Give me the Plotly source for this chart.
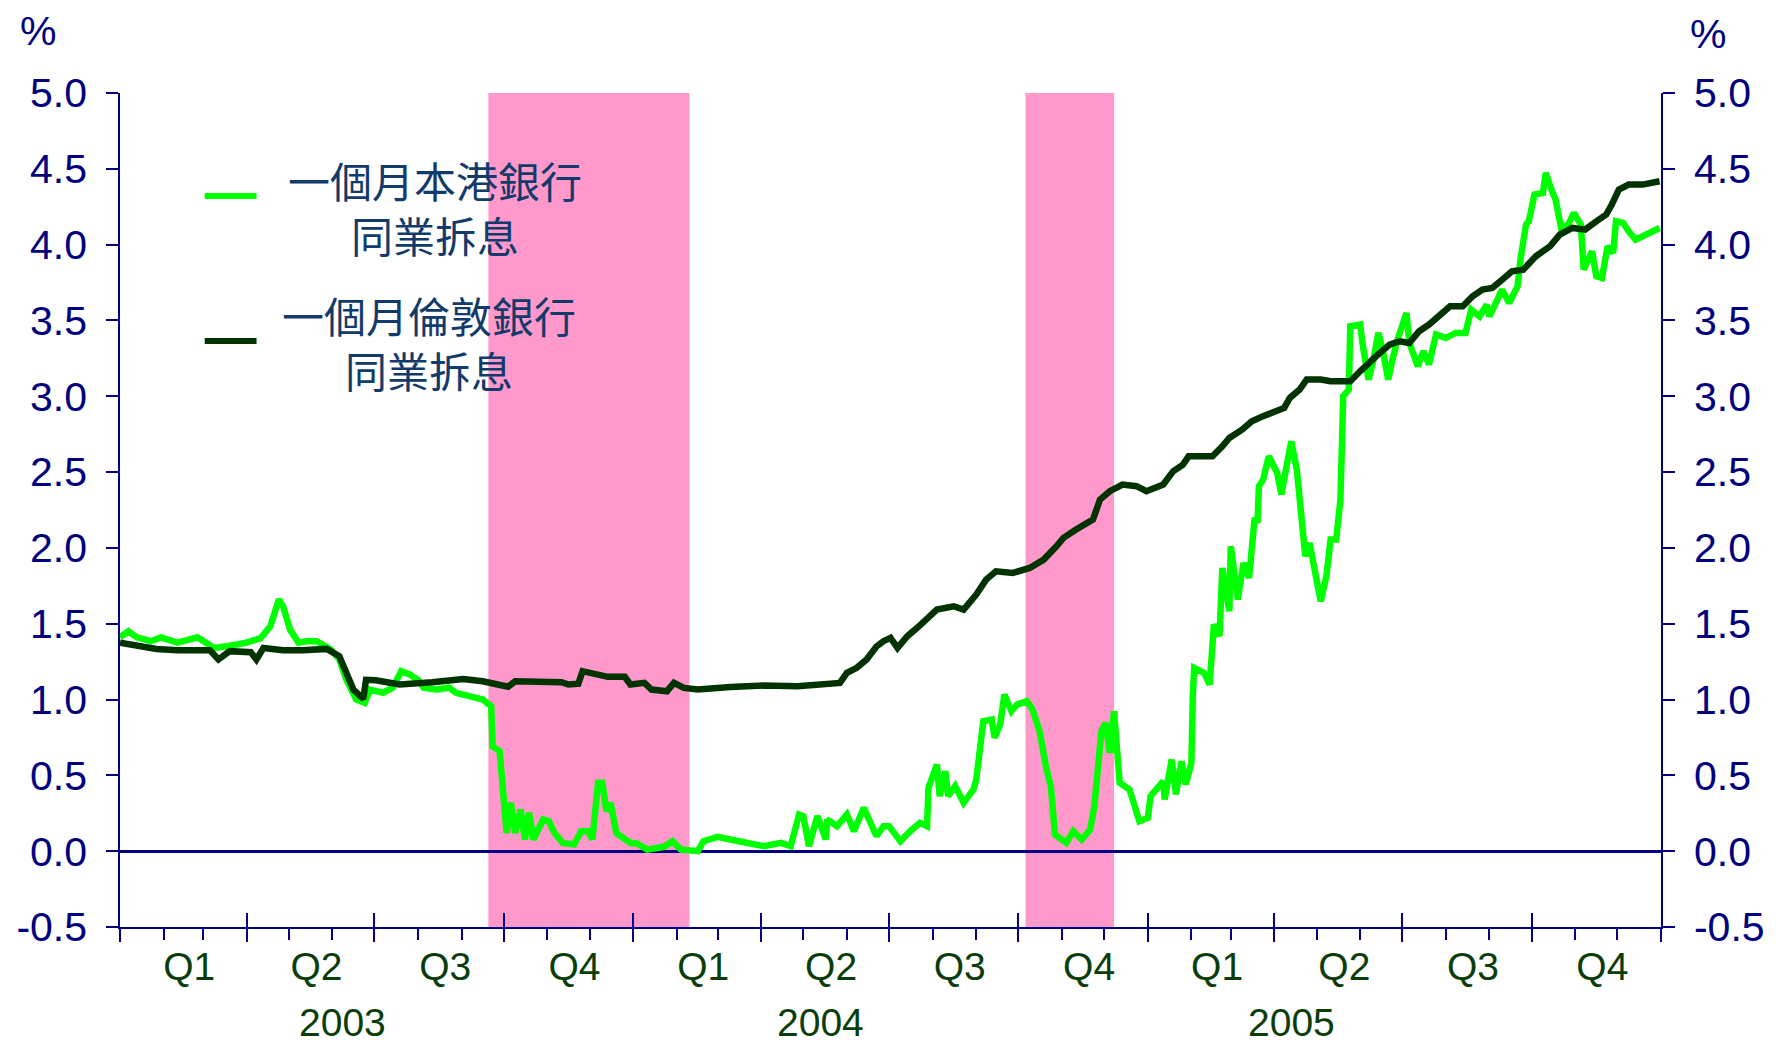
import pandas as pd
import plotly.graph_objects as go

# ---------------- data ----------------
BASE_DATE = "2003-01-01"

# 1-month HIBOR (%): days since 1 Jan 2003 and value
hibor_day = [0, 6, 12, 22, 29, 41, 55, 67, 78, 90, 100, 107, 113, 116, 121, 127, 133, 140,
             150, 156, 161, 168, 174, 178, 187, 194, 200, 206, 212, 216, 225, 234, 239, 248,
             258, 264, 265, 270, 273, 275, 278, 281, 285, 288, 291, 294, 301, 305, 309, 315,
             323, 328, 333, 336, 340, 343, 346, 349, 353, 359, 363, 368, 375, 387, 393, 399,
             411, 415, 425, 434, 446, 458, 470, 477, 483, 486, 490, 496, 502, 503, 510, 517,
             522, 529, 538, 543, 547, 555, 562, 569, 574, 575, 581, 583, 587, 589, 594, 600,
             607, 609, 614, 620, 622, 626, 629, 634, 638, 645, 649, 654, 659, 662, 665, 673,
             678, 684, 690, 693, 698, 701, 704, 707, 711, 718, 725, 731, 733, 742, 743, 748,
             751, 755, 758, 762, 763, 764, 771, 775, 778, 782, 784, 789, 790, 795, 799, 803,
             807, 809, 810, 813, 817, 823, 826, 830, 833, 837, 839, 843, 846, 849, 854, 858,
             861, 865, 868, 870, 874, 875, 882, 884, 888, 891, 895, 898, 902, 905, 909, 915,
             917, 923, 927, 931, 936, 943, 950, 957, 961, 967, 972, 974, 979, 983, 988, 994,
             996, 1000, 1002, 1006, 1012, 1014, 1018, 1021, 1025, 1030, 1034, 1039, 1041, 1047,
             1050, 1054, 1058, 1062, 1064, 1069, 1073, 1078, 1083, 1090, 1095]
hibor_pct = [1.41, 1.45, 1.41, 1.385, 1.41, 1.375, 1.41, 1.34, 1.355, 1.375, 1.405, 1.485, 1.66,
             1.615, 1.46, 1.375, 1.385, 1.385, 1.33, 1.265, 1.13, 1.0, 0.978, 1.065, 1.045,
             1.078, 1.187, 1.165, 1.13, 1.078, 1.066, 1.078, 1.044, 1.022, 1.0, 0.956, 0.69,
             0.66, 0.34, 0.12, 0.32, 0.12, 0.275, 0.077, 0.253, 0.077, 0.209, 0.198, 0.12,
             0.055, 0.044, 0.132, 0.132, 0.077, 0.451, 0.451, 0.264, 0.318, 0.12, 0.077, 0.055,
             0.05, 0.011, 0.029, 0.066, 0.011, 0.0, 0.066, 0.095, 0.077, 0.05, 0.033, 0.055,
             0.033, 0.242, 0.231, 0.033, 0.231, 0.077, 0.209, 0.165, 0.242, 0.132, 0.286, 0.1,
             0.165, 0.165, 0.066, 0.132, 0.187, 0.165, 0.418, 0.571, 0.363, 0.528, 0.363, 0.429,
             0.319, 0.407, 0.473, 0.857, 0.868, 0.748, 0.835, 1.033, 0.923, 0.967, 0.989, 0.934,
             0.791, 0.538, 0.429, 0.11, 0.055, 0.132, 0.077, 0.143, 0.297, 0.791, 0.846, 0.648,
             0.923, 0.451, 0.407, 0.198, 0.22, 0.363, 0.462, 0.341, 0.604, 0.374, 0.593, 0.44,
             0.582, 1.022, 1.209, 1.176, 1.099, 1.495, 1.418, 1.868, 1.582, 2.011, 1.659, 1.901,
             1.802, 2.198, 2.165, 2.407, 2.45, 2.604, 2.495, 2.352, 2.56, 2.703, 2.516, 2.297,
             1.945, 2.033, 1.901, 1.648, 1.813, 2.055, 2.055, 2.319, 3.0, 3.044, 3.462, 3.473,
             3.33, 3.11, 3.22, 3.418, 3.308, 3.11, 3.242, 3.385, 3.549, 3.352, 3.198, 3.297,
             3.209, 3.407, 3.385, 3.418, 3.418, 3.571, 3.527, 3.604, 3.527, 3.637, 3.703, 3.615,
             3.725, 3.901, 4.132, 4.154, 4.33, 4.341, 4.473, 4.363, 4.297, 4.11, 4.132, 4.209,
             4.132, 3.835, 3.956, 3.791, 3.78, 3.989, 3.945, 4.154, 4.143, 4.088, 4.033, 4.055,
             4.088, 4.11]

# 1-month LIBOR (%): days since 1 Jan 2003 and value
libor_day = [0, 12, 26, 41, 55, 64, 70, 74, 78, 93, 97, 102, 116, 130, 147, 156, 161, 166, 173,
             175, 182, 199, 222, 244, 258, 276, 281, 314, 319, 326, 329, 337, 347, 359, 363, 373,
             378, 389, 394, 401, 411, 434, 458, 482, 512, 517, 524, 531, 538, 543, 548, 553, 560,
             567, 574, 581, 593, 600, 609, 616, 623, 635, 647, 657, 666, 671, 680, 687, 692, 697,
             704, 713, 723, 730, 742, 749, 756, 760, 777, 784, 789, 798, 805, 813, 820, 828, 832,
             839, 844, 854, 861, 875, 882, 889, 896, 903, 910, 917, 924, 931, 939, 946, 955, 962,
             969, 976, 983, 990, 998, 1007, 1017, 1024, 1033, 1042, 1050, 1057, 1061, 1066, 1073,
             1083, 1095]
libor_pct = [1.374, 1.356, 1.334, 1.325, 1.33, 1.325, 1.264, 1.297, 1.319, 1.312, 1.264, 1.34,
             1.325, 1.325, 1.334, 1.286, 1.176, 1.066, 1.004, 1.13, 1.127, 1.099, 1.114, 1.136,
             1.121, 1.085, 1.12, 1.114, 1.099, 1.105, 1.187, 1.171, 1.15, 1.15, 1.099, 1.11,
             1.066, 1.055, 1.11, 1.077, 1.066, 1.083, 1.092, 1.088, 1.11, 1.176, 1.209, 1.264,
             1.35, 1.385, 1.407, 1.341, 1.418, 1.473, 1.528, 1.593, 1.615, 1.593, 1.692, 1.791,
             1.846, 1.835, 1.868, 1.923, 2.011, 2.066, 2.121, 2.154, 2.187, 2.319, 2.374, 2.418,
             2.407, 2.374, 2.418, 2.505, 2.549, 2.604, 2.604, 2.67, 2.725, 2.78, 2.835, 2.869,
             2.89, 2.923, 2.989, 3.044, 3.11, 3.11, 3.099, 3.099, 3.165, 3.231, 3.286, 3.341,
             3.363, 3.352, 3.429, 3.473, 3.538, 3.593, 3.593, 3.659, 3.703, 3.714, 3.769, 3.824,
             3.835, 3.923, 3.989, 4.066, 4.11, 4.099, 4.154, 4.198, 4.264, 4.363, 4.396, 4.396,
             4.418]

# shaded periods
band_start = ["2003-09-20", "2004-10-06"]
band_end = ["2004-02-10", "2004-12-08"]

# axis ticks / labels
y_tick_vals = [-0.5, 0.0, 0.5, 1.0, 1.5, 2.0, 2.5, 3.0, 3.5, 4.0, 4.5, 5.0]
y_tick_text = [f"{v:.1f}" for v in y_tick_vals]
years = ["2003", "2004", "2005"]
year_label_dates = ["2003-06-08", "2004-05-13", "2005-04-13"]

series_names = ["一個月本港銀行<br>同業拆息", "一個月倫敦銀行<br>同業拆息"]

# ---------------- styling ----------------
W, H = 1777, 1043
ML, MR, MT, MB = 120, 111, 93, 116
PW, PH = W - ML - MR, H - MT - MB
NAVY = "#000080"
GREEN = "#00ff00"
DARK = "#003300"
QGREEN = "#0a3d0a"
LEG_TXT = "#123a6a"
PINK = "#ff99cc"
FONT = "Liberation Sans, Arial, sans-serif"
CJK = "Noto Sans CJK TC, Noto Sans CJK SC, sans-serif"
X_RANGE = ["2003-01-01", "2006-01-01"]
Y_RANGE = [-0.5, 5.0]


def px(xp):
    return (xp - ML) / PW


def py(yp):
    return (H - MB - yp) / PH


base = pd.Timestamp(BASE_DATE)
hibor_x = base + pd.to_timedelta(hibor_day, unit="D")
libor_x = base + pd.to_timedelta(libor_day, unit="D")

fig = go.Figure()
fig.add_trace(go.Scatter(x=hibor_x, y=hibor_pct, mode="lines", name=series_names[0],
                         line=dict(color=GREEN, width=6.5), showlegend=False))
fig.add_trace(go.Scatter(x=libor_x, y=libor_pct, mode="lines", name=series_names[1],
                         line=dict(color=DARK, width=6.5), showlegend=False))
# carrier trace for the overlay axes (right y axis, inner quarter ticks)
fig.add_trace(go.Scatter(x=[X_RANGE[0]], y=[None], xaxis="x2", yaxis="y2",
                         showlegend=False, hoverinfo="skip"))

for s, e in zip(band_start, band_end):
    fig.add_shape(type="rect", xref="x", yref="y", x0=s, x1=e, y0=Y_RANGE[0], y1=Y_RANGE[1] + 0.015,
                  fillcolor=PINK, line_width=0, layer="below")

# manual legend (sample line + centred two-line text)
leg_y = [196, 341]
leg_col = [GREEN, DARK]
for yy, cc in zip(leg_y, leg_col):
    fig.add_shape(type="line", xref="paper", yref="paper", x0=px(205), x1=px(257),
                  y0=py(yy), y1=py(yy), line=dict(color=cc, width=6))
leg_text_pos = [(436.5, 207), (430, 342)]
for name, (xx, yy) in zip(series_names, leg_text_pos):
    fig.add_annotation(text=name, xref="paper", yref="paper", x=px(xx), y=py(yy),
                       xanchor="center", yanchor="middle", align="center", showarrow=False,
                       font=dict(family=CJK, size=42, color=LEG_TXT))

# % unit labels
for xx, yy in [(38, 31), (1713, 34)]:
    fig.add_annotation(text="%", xref="paper", yref="paper", x=px(xx), y=py(yy),
                       xanchor="center", yanchor="middle", showarrow=False,
                       font=dict(family=FONT, size=41, color=NAVY))

# year labels
for yr, d in zip(years, year_label_dates):
    fig.add_annotation(text=yr, xref="x", yref="paper", x=d, y=py(1022),
                       xanchor="center", yanchor="middle", showarrow=False,
                       font=dict(family=FONT, size=39, color=QGREEN))

axis_common = dict(showgrid=False, linecolor=NAVY, linewidth=1.5, tickcolor=NAVY, tickwidth=1.5)

fig.update_layout(
    width=W, height=H, autosize=False,
    margin=dict(l=ML, r=MR, t=MT, b=MB, pad=0),
    paper_bgcolor="white", plot_bgcolor="white",
    xaxis=dict(type="date", range=X_RANGE, showline=True, zeroline=False,
               ticks="outside", ticklen=13, dtick="M3", tick0=BASE_DATE,
               tickformat="Q%q", ticklabelmode="period", ticklabelstandoff=-9,
               ticklabelshift=6,
               tickfont=dict(family=FONT, size=39, color=QGREEN),
               minor=dict(dtick="M1", tick0=BASE_DATE, ticks="outside", ticklen=11,
                          tickcolor=NAVY, tickwidth=1.5, showgrid=False),
               **axis_common),
    xaxis2=dict(type="date", range=X_RANGE, overlaying="x", anchor="y", side="bottom",
                showline=False, zeroline=False, showticklabels=False,
                ticks="inside", ticklen=14, dtick="M3", tick0=BASE_DATE,
                showgrid=False, tickcolor=NAVY, tickwidth=1.5),
    yaxis=dict(range=Y_RANGE, showline=True, ticks="outside", ticklen=12,
               tickvals=y_tick_vals, ticktext=y_tick_text, ticklabelstandoff=11,
               zeroline=True, zerolinecolor=NAVY, zerolinewidth=2.5,
               tickfont=dict(family=FONT, size=41, color=NAVY), **axis_common),
    yaxis2=dict(range=Y_RANGE, overlaying="y", side="right", anchor="x", showline=True,
                ticks="outside", ticklen=12, tickvals=y_tick_vals, ticktext=y_tick_text,
                ticklabelstandoff=11, zeroline=False,
                tickfont=dict(family=FONT, size=41, color=NAVY), **axis_common),
)

fig.write_html("out.html", config={"displayModeBar": False},
               post_script="document.body.style.margin='0';document.body.style.overflow='hidden';")
